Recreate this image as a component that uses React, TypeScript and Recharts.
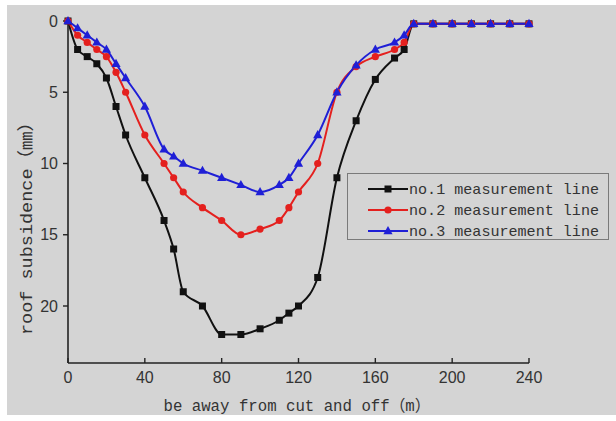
import React from 'react';
import { LineChart, Line, XAxis, YAxis, Legend } from 'recharts';

const distances = [0, 5, 10, 15, 20, 25, 30, 40, 50, 55, 60, 70, 80, 90, 100, 110, 115, 120, 130, 140, 150, 160, 170, 175, 180, 190, 200, 210, 220, 230, 240];
const line1 = [0, 2, 2.5, 3, 4, 6, 8, 11, 14, 16, 19, 20, 22, 22, 21.6, 21, 20.5, 20, 18, 11, 7, 4.1, 2.6, 2, 0.2, 0.2, 0.2, 0.2, 0.2, 0.2, 0.2];
const line2 = [0, 1, 1.5, 2, 2.5, 3.6, 5, 8, 10, 11, 12, 13.1, 14, 15, 14.6, 14, 13.1, 12, 10, 5, 3.2, 2.5, 2, 1.5, 0.2, 0.2, 0.2, 0.2, 0.2, 0.2, 0.2];
const line3 = [0, 0.5, 1, 1.5, 2, 3, 4, 6, 9, 9.5, 10, 10.5, 11, 11.5, 12, 11.5, 11, 10, 8, 5, 3.1, 2, 1.5, 1, 0.2, 0.2, 0.2, 0.2, 0.2, 0.2, 0.2];

const xTicks = [0, 40, 80, 120, 160, 200, 240];
const yTicks = [0, 5, 10, 15, 20];
const seriesNames = ['no.1 measurement line', 'no.2 measurement line', 'no.3 measurement line'];
const xTitle = 'be away from cut and off（m）';
const yTitle = 'roof subsidence（㎜）';

const COLORS = ['#111111', '#e4201e', '#1f1fd6'];
const MONO = "'Liberation Mono', 'Noto Sans CJK SC', monospace";
const SANS = "'Liberation Sans', Arial, sans-serif";

const data = distances.map((d, i) => ({ d, s1: line1[i], s2: line2[i], s3: line3[i] }));

const Marker = ({ kind, cx, cy, color }: { kind: number; cx: number; cy: number; color: string }) => {
  if (kind === 0) return <rect x={cx - 3.5} y={cy - 3.5} width={7} height={7} fill={color} />;
  if (kind === 1) return <circle cx={cx} cy={cy} r={3.6} fill={color} />;
  return <polygon points={`${cx},${cy - 5} ${cx + 4.6},${cy + 3.2} ${cx - 4.6},${cy + 3.2}`} fill={color} />;
};

const makeDot = (kind: number) => (p: any) => (
  <g key={`dot-${kind}-${p.index}`}>
    <Marker kind={kind} cx={p.cx} cy={p.cy} color={COLORS[kind]} />
  </g>
);

const XTitle = (props: any) => {
  const vb = props.viewBox || {};
  return (
    <text x={vb.x + vb.width / 2 - 1.5} y={411} textAnchor="middle" fontFamily={MONO} fontSize={16}
      fill="#333" textLength={267} lengthAdjust="spacingAndGlyphs">
      {xTitle}
    </text>
  );
};

const YTitle = () => (
  <text x={0} y={0} transform="translate(32,224) rotate(-90)" textAnchor="middle" fontFamily={MONO} fontSize={17}
    fill="#333" textLength={222} lengthAdjust="spacingAndGlyphs">
    {yTitle}
  </text>
);

const LegendBox = () => (
  <svg width={262} height={67} style={{ display: 'block' }}>
    {seriesNames.map((name, i) => {
      const y = 15 + 21 * i;
      return (
        <g key={name}>
          <line x1={20} x2={60} y1={y} y2={y} stroke={COLORS[i]} strokeWidth={2} />
          <Marker kind={i} cx={40} cy={y} color={COLORS[i]} />
          <text x={61} y={y + 5} fontFamily={MONO} fontSize={15} fill="#333" textLength={190} lengthAdjust="spacingAndGlyphs">
            {name}
          </text>
        </g>
      );
    })}
  </svg>
);

export default function App() {
  return (
    <div style={{ position: 'absolute', left: 0, top: 0, width: 616, height: 421, background: '#ffffff', overflow: 'hidden' }}>
      <div style={{ position: 'absolute', left: 7, top: 5, right: 0, bottom: 6, background: '#d4d4d4' }} />
      <div style={{ position: 'absolute', left: 0, top: 0 }}>
        <LineChart width={616} height={421} data={data} margin={{ top: 21, right: 87, bottom: 18, left: 8 }}>
          <XAxis
            dataKey="d"
            type="number"
            domain={[0, 240]}
            ticks={xTicks}
            interval={0}
            height={40}
            tickSize={-5}
            tickMargin={14}
            axisLine={{ stroke: '#222', strokeWidth: 1.6 }}
            tickLine={{ stroke: '#222', strokeWidth: 1.4 }}
            tick={{ fill: '#333', fontSize: 16, fontFamily: SANS }}
            label={<XTitle />}
          />
          <YAxis
            type="number"
            domain={[0, 24]}
            reversed
            ticks={yTicks}
            interval={0}
            width={60}
            tickSize={5}
            tickMargin={5}
            axisLine={{ stroke: '#222', strokeWidth: 1.6 }}
            tickLine={{ stroke: '#222', strokeWidth: 1.4 }}
            tick={{ fill: '#333', fontSize: 16, fontFamily: SANS }}
            label={<YTitle />}
          />
          <Legend
            layout="vertical"
            align="center"
            verticalAlign="middle"
            content={() => <LegendBox />}
            wrapperStyle={{ left: 347, top: 173, width: 262, height: 67, border: '1px solid #7a7a7a', boxSizing: 'border-box' }}
          />
          <Line dataKey="s1" name={seriesNames[0]} type="monotone" stroke={COLORS[0]} strokeWidth={2} dot={makeDot(0)} isAnimationActive={false} />
          <Line dataKey="s2" name={seriesNames[1]} type="monotone" stroke={COLORS[1]} strokeWidth={2} dot={makeDot(1)} isAnimationActive={false} />
          <Line dataKey="s3" name={seriesNames[2]} type="monotone" stroke={COLORS[2]} strokeWidth={2} dot={makeDot(2)} isAnimationActive={false} />
        </LineChart>
      </div>
    </div>
  );
}
